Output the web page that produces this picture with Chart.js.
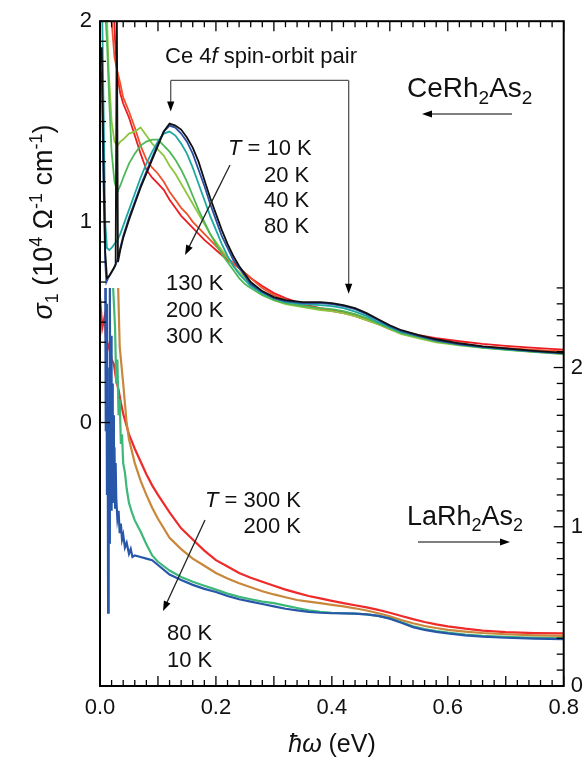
<!DOCTYPE html>
<html>
<head>
<meta charset="utf-8">
<script src="https://cdn.jsdelivr.net/npm/chart.js@4.4.1/dist/chart.umd.min.js"></script>
<style>
  html, body { margin: 0; padding: 0; background: #fff; }
</style>
</head>
<body>
<canvas id="chart" width="588" height="764"></canvas>
<script>
// ---- CeRh2As2 (left axis, 10^4 / ohm cm) ----
// shared energy grid above 0.04 eV
const ceGrid = [0.04,0.05,0.06,0.07,0.08,0.09,0.10,0.11,0.12,0.13,0.14,0.15,0.16,0.17,0.18,0.19,0.20,0.21,0.22,0.23,0.24,0.25,0.26,0.28,0.30,0.32,0.35,0.38,0.40,0.42,0.44,0.46,0.48,0.50,0.52,0.55,0.58,0.62,0.66,0.70,0.75,0.80];

const ce10Low = [0.003,0.006,0.009,0.012,0.016,0.020,0.024,0.027,0.029,0.031,0.035];
const ce10LowS = [1.87,1.30,0.85,0.72,0.73,0.75,0.77,0.79,2.10,0.80,0.86];
const ce10 = [0.92,1.01,1.09,1.17,1.24,1.31,1.38,1.45,1.49,1.48,1.46,1.42,1.37,1.30,1.21,1.12,1.04,0.96,0.89,0.83,0.78,0.74,0.70,0.655,0.625,0.61,0.60,0.60,0.595,0.585,0.57,0.545,0.515,0.485,0.46,0.435,0.415,0.395,0.38,0.37,0.357,0.347];

const ce20Low = [0.003,0.006,0.009,0.011,0.014,0.018,0.022,0.026,0.030,0.035];
const ce20LowS = [1.75,1.20,0.80,0.70,0.72,0.74,0.76,0.78,0.81,0.87];
const ce20 = [0.93,1.02,1.10,1.18,1.25,1.32,1.39,1.45,1.48,1.47,1.44,1.40,1.34,1.26,1.18,1.09,1.01,0.93,0.87,0.81,0.77,0.73,0.69,0.65,0.62,0.605,0.595,0.595,0.59,0.58,0.565,0.54,0.51,0.48,0.455,0.43,0.41,0.39,0.377,0.367,0.355,0.345];

const ce40Low = [0.003,0.006,0.009,0.012,0.016,0.020,0.025,0.030,0.035];
const ce40LowS = [2.20,1.60,1.00,0.87,0.86,0.87,0.89,0.91,0.94];
const ce40 = [0.98,1.06,1.14,1.22,1.29,1.35,1.40,1.44,1.45,1.43,1.39,1.34,1.27,1.19,1.11,1.03,0.96,0.89,0.83,0.78,0.74,0.71,0.68,0.645,0.62,0.60,0.59,0.585,0.58,0.57,0.553,0.53,0.50,0.475,0.45,0.43,0.41,0.39,0.375,0.365,0.353,0.343];

const ce80Low = [0.004,0.008,0.012,0.016,0.020,0.025,0.030,0.035];
const ce80LowS = [2.30,2.10,1.90,1.60,1.35,1.20,1.15,1.18];
const ce80 = [1.22,1.29,1.34,1.38,1.40,1.41,1.41,1.38,1.35,1.31,1.26,1.20,1.13,1.06,1.00,0.94,0.89,0.84,0.80,0.76,0.72,0.69,0.67,0.635,0.61,0.595,0.58,0.57,0.565,0.555,0.54,0.52,0.495,0.47,0.445,0.425,0.405,0.387,0.373,0.363,0.352,0.342];

const ce130Low = [0.005,0.010,0.015,0.020,0.025,0.030,0.035];
const ce130LowS = [2.40,2.20,1.75,1.50,1.40,1.38,1.40];
const ce130 = [1.41,1.44,1.45,1.47,1.43,1.39,1.36,1.33,1.28,1.24,1.19,1.14,1.09,1.04,0.99,0.94,0.90,0.86,0.82,0.78,0.75,0.72,0.69,0.64,0.61,0.59,0.575,0.56,0.555,0.545,0.53,0.51,0.49,0.465,0.44,0.42,0.40,0.385,0.372,0.362,0.351,0.341];

const ce200Low = [0.006,0.014,0.020,0.025,0.030,0.035];
const ce200LowS = [2.50,2.40,2.00,1.82,1.75,1.69];
const ce200 = [1.62,1.55,1.47,1.38,1.31,1.27,1.24,1.20,1.15,1.11,1.07,1.04,1.00,0.97,0.94,0.91,0.88,0.85,0.82,0.795,0.77,0.745,0.72,0.67,0.635,0.61,0.585,0.565,0.555,0.545,0.53,0.51,0.49,0.465,0.445,0.425,0.408,0.393,0.38,0.372,0.362,0.354];

const ce300Low = [0.010,0.020,0.026,0.030,0.035];
const ce300LowS = [2.50,2.30,1.90,1.73,1.64];
const ce300 = [1.59,1.52,1.43,1.34,1.26,1.22,1.19,1.16,1.11,1.07,1.03,1.00,0.97,0.94,0.91,0.885,0.86,0.835,0.81,0.79,0.77,0.745,0.72,0.68,0.645,0.62,0.59,0.57,0.56,0.55,0.535,0.515,0.495,0.475,0.455,0.435,0.42,0.405,0.392,0.382,0.372,0.363];

// ---- LaRh2As2 (right axis) ----
const laGrid = [0.06,0.07,0.08,0.09,0.10,0.12,0.14,0.16,0.18,0.20,0.22,0.24,0.26,0.28,0.30,0.32,0.34,0.36,0.38,0.40,0.42,0.44,0.46,0.48,0.50,0.52,0.54,0.56,0.58,0.60,0.63,0.66,0.70,0.75,0.80];

const la300Low = [0.000,0.004,0.008,0.012,0.016,0.020,0.024,0.028,0.032,0.036,0.040,0.050];
const la300LowS = [2.44,2.25,2.32,2.10,2.15,2.05,2.02,1.92,1.86,1.78,1.71,1.58];
const la300 = [1.49,1.41,1.33,1.26,1.20,1.09,0.99,0.92,0.85,0.79,0.75,0.71,0.68,0.655,0.63,0.605,0.585,0.565,0.55,0.535,0.52,0.507,0.494,0.478,0.46,0.44,0.42,0.402,0.387,0.375,0.36,0.348,0.338,0.332,0.33];

const la200Low = [0.022,0.031,0.034,0.040,0.046,0.050];
const la200LowS = [2.60,2.55,2.13,1.90,1.65,1.55];
const la200 = [1.40,1.29,1.20,1.12,1.05,0.93,0.86,0.80,0.755,0.71,0.675,0.645,0.62,0.595,0.575,0.557,0.54,0.53,0.52,0.51,0.50,0.488,0.474,0.457,0.437,0.414,0.394,0.377,0.364,0.353,0.342,0.333,0.325,0.318,0.315];

const la80Low = [0.016,0.022,0.026,0.028,0.030,0.032,0.034,0.036,0.038,0.040,0.043,0.046,0.050,0.055];
const la80LowS = [2.60,2.55,2.25,1.90,2.05,1.70,1.80,1.52,1.58,1.40,1.34,1.24,1.15,1.09];
const la80 = [1.04,0.97,0.89,0.82,0.78,0.725,0.685,0.655,0.63,0.605,0.58,0.56,0.545,0.53,0.52,0.505,0.49,0.475,0.465,0.46,0.457,0.455,0.45,0.44,0.425,0.40,0.375,0.358,0.345,0.335,0.323,0.315,0.308,0.302,0.30];

const la10Low = [0.009,0.010,0.011,0.012,0.013,0.014,0.015,0.016,0.017,0.018,0.019,0.020,0.021,0.022,0.023,0.024,0.025,0.026,0.027,0.028,0.030,0.032,0.034,0.036,0.038,0.040,0.043,0.046,0.050,0.053,0.056];
const la10LowS = [2.60,1.60,2.40,1.20,2.00,0.46,1.60,0.90,2.50,1.30,2.20,1.10,1.90,1.15,1.70,1.20,1.50,1.12,1.40,1.18,1.05,1.10,0.96,1.02,0.92,0.95,0.87,0.90,0.83,0.86,0.81];
const la10 = [0.82,0.81,0.80,0.79,0.76,0.70,0.665,0.635,0.61,0.59,0.565,0.545,0.53,0.515,0.50,0.485,0.475,0.465,0.46,0.457,0.456,0.455,0.45,0.44,0.423,0.397,0.37,0.352,0.34,0.33,0.318,0.31,0.303,0.297,0.295];

// axis ticks
const xTickLabels = [0, 0.2, 0.4, 0.6, 0.8];
const leftTickLabels = [0, 1, 2];
const rightTickLabels = [0, 1, 2];
const laCeiling = 2.5;   // upper edge of lower panel (right axis)

const FONT = '"Liberation Sans", Arial, Helvetica, sans-serif';

function pts(lowE, lowS, grid, vals) {
    return lowE.map((e, i) => ({ x: e, y: lowS[i] }))
        .concat(grid.map((e, i) => ({ x: e, y: vals[i] })));
}

function series(label, data, color, axis, width) {
    return {
        label: label,
        data: data,
        borderColor: color,
        borderWidth: width,
        pointRadius: 0,
        fill: false,
        tension: 0,
        yAxisID: axis
    };
}

// first dataset is painted last (on top)
const datasets = [
    series('Ce 10 K', pts(ce10Low, ce10LowS, ceGrid, ce10), '#111111', 'yLeft', 1.8),
    series('Ce 20 K', pts(ce20Low, ce20LowS, ceGrid, ce20), '#2b4fa2', 'yLeft', 1.8),
    series('Ce 40 K', pts(ce40Low, ce40LowS, ceGrid, ce40), '#1fa8a0', 'yLeft', 1.8),
    series('Ce 80 K', pts(ce80Low, ce80LowS, ceGrid, ce80), '#4cb856', 'yLeft', 1.8),
    series('Ce 130 K', pts(ce130Low, ce130LowS, ceGrid, ce130), '#8dc63f', 'yLeft', 1.8),
    series('Ce 200 K', pts(ce200Low, ce200LowS, ceGrid, ce200), '#f0502c', 'yLeft', 1.8),
    series('Ce 300 K', pts(ce300Low, ce300LowS, ceGrid, ce300), '#ec1c24', 'yLeft', 1.8),
    series('La 10 K', pts(la10Low, la10LowS, laGrid, la10), '#2856a8', 'yRight', 2.2),
    series('La 80 K', pts(la80Low, la80LowS, laGrid, la80), '#3db878', 'yRight', 2.2),
    series('La 200 K', pts(la200Low, la200LowS, laGrid, la200), '#c8873a', 'yRight', 2.2),
    series('La 300 K', pts(la300Low, la300LowS, laGrid, la300), '#ee2a2a', 'yRight', 2.2)
];

// lower-panel curves are cut at the top of their axis range
const panelClip = {
    id: 'panelClip',
    beforeDatasetDraw(chart, args) {
        const { ctx, chartArea: a, scales } = chart;
        const ds = chart.data.datasets[args.index];
        ctx.save();
        if (ds.yAxisID === 'yRight') {
            const yt = scales.yRight.getPixelForValue(laCeiling);
            ctx.beginPath();
            ctx.rect(a.left, yt, a.right - a.left, a.bottom - yt);
            ctx.clip();
        }
    },
    afterDatasetDraw(chart) {
        chart.ctx.restore();
    }
};

function seg(ctx, x1, y1, x2, y2) {
    ctx.beginPath();
    ctx.moveTo(x1, y1);
    ctx.lineTo(x2, y2);
    ctx.stroke();
}

function arrow(ctx, x1, y1, x2, y2, color) {
    const ang = Math.atan2(y2 - y1, x2 - x1);
    const len = 10, half = 3.6;
    ctx.save();
    ctx.strokeStyle = color || '#444';
    ctx.lineWidth = 1.3;
    seg(ctx, x1, y1, x2 - Math.cos(ang) * len * 0.8, y2 - Math.sin(ang) * len * 0.8);
    ctx.fillStyle = '#000';
    ctx.beginPath();
    ctx.moveTo(x2, y2);
    ctx.lineTo(x2 - Math.cos(ang) * len - Math.sin(ang) * half, y2 - Math.sin(ang) * len + Math.cos(ang) * half);
    ctx.lineTo(x2 - Math.cos(ang) * len + Math.sin(ang) * half, y2 - Math.sin(ang) * len - Math.cos(ang) * half);
    ctx.closePath();
    ctx.fill();
    ctx.restore();
}

// parts: [text, style]; style '' | 'i' | 'sub' | 'sup'
function richText(ctx, parts, x, y, size, align) {
    const fontFor = st => {
        const s = (st === 'sub' || st === 'sup') ? Math.round(size * 0.68) : size;
        return (st === 'i' ? 'italic ' : '') + s + 'px ' + FONT;
    };
    let w = 0;
    parts.forEach(p => { ctx.font = fontFor(p[1]); w += ctx.measureText(p[0]).width; });
    let cx = align === 'center' ? x - w / 2 : align === 'right' ? x - w : x;
    parts.forEach(p => {
        ctx.font = fontFor(p[1]);
        const dy = p[1] === 'sub' ? size * 0.24 : p[1] === 'sup' ? -size * 0.38 : 0;
        ctx.fillText(p[0], cx, y + dy);
        cx += ctx.measureText(p[0]).width;
    });
}

// frame, inward ticks, axis titles and annotations
const decorations = {
    id: 'decorations',
    afterDraw(chart) {
        const { ctx, chartArea: a, scales } = chart;
        const x = scales.x, yl = scales.yLeft, yr = scales.yRight;
        ctx.save();
        ctx.strokeStyle = '#000';
        ctx.lineWidth = 1.3;
        for (let i = 0; i <= 40; i++) {
            const px = x.getPixelForValue(i * 0.02);
            const len = i % 5 === 0 ? 10 : 6;
            seg(ctx, px, a.bottom, px, a.bottom - len);
            seg(ctx, px, a.top, px, a.top + len);
        }
        for (let i = 0; i <= 20; i++) {
            const py = yl.getPixelForValue(i / 10);
            seg(ctx, a.left, py, a.left + (i % 10 === 0 ? 10 : 6), py);
        }
        for (let i = 0; i <= 25; i++) {
            const py = yr.getPixelForValue(i / 10);
            seg(ctx, a.right, py, a.right - (i % 10 === 0 ? 10 : 7), py);
        }
        ctx.lineWidth = 2;
        ctx.strokeRect(a.left, a.top, a.right - a.left, a.bottom - a.top);

        ctx.fillStyle = '#111';
        ctx.textBaseline = 'alphabetic';

        // axis titles
        ctx.save();
        ctx.translate(52, 222);
        ctx.rotate(-Math.PI / 2);
        richText(ctx, [['σ', 'i'], ['1', 'sub'], [' (10', ''], ['4', 'sup'], [' Ω', ''], ['-1', 'sup'], [' cm', ''], ['-1', 'sup'], [')', '']], 0, 0, 27, 'center');
        ctx.restore();
        richText(ctx, [['ħω', 'i'], [' (eV)', '']], 332, 752, 25, 'center');

        // upper panel
        richText(ctx, [['Ce 4', ''], ['f', 'i'], [' spin-orbit pair', '']], 165, 63, 22, 'left');
        const xa = x.getPixelForValue(0.122), xb = x.getPixelForValue(0.429);
        const yTop = yl.getPixelForValue(1.705);
        ctx.strokeStyle = '#555';
        ctx.lineWidth = 1.3;
        seg(ctx, xa, yTop, xb, yTop);
        arrow(ctx, xa, yTop, xa, yl.getPixelForValue(1.55), '#555');
        arrow(ctx, xb, yTop, xb, yl.getPixelForValue(0.642), '#555');

        richText(ctx, [['CeRh', ''], ['2', 'sub'], ['As', ''], ['2', 'sub']], 407, 97, 28, 'left');
        arrow(ctx, 512, 114, 422, 114, '#555');

        richText(ctx, [['T', 'i'], [' = 10 K', '']], 228, 155, 22, 'left');
        richText(ctx, [['20 K', '']], 264, 182, 22, 'left');
        richText(ctx, [['40 K', '']], 264, 207, 22, 'left');
        richText(ctx, [['80 K', '']], 264, 233, 22, 'left');
        arrow(ctx, 230, 165, 185, 255, '#222');
        richText(ctx, [['130 K', '']], 166, 290, 22, 'left');
        richText(ctx, [['200 K', '']], 166, 317, 22, 'left');
        richText(ctx, [['300 K', '']], 166, 343, 22, 'left');

        // lower panel
        richText(ctx, [['T', 'i'], [' = 300 K', '']], 301, 507, 22, 'right');
        richText(ctx, [['200 K', '']], 301, 533, 22, 'right');
        arrow(ctx, 205, 520, 163, 611, '#222');
        richText(ctx, [['80 K', '']], 167, 640, 22, 'left');
        richText(ctx, [['10 K', '']], 167, 667, 22, 'left');
        richText(ctx, [['LaRh', ''], ['2', 'sub'], ['As', ''], ['2', 'sub']], 407, 525, 27, 'left');
        arrow(ctx, 418, 542, 510, 542, '#555');
        ctx.restore();
    }
};

const tickFont = { family: FONT, size: 22 };

new Chart(document.getElementById('chart'), {
    type: 'line',
    data: { datasets: datasets },
    options: {
        responsive: false,
        animation: false,
        layout: { padding: { top: 20, left: 0, right: 0, bottom: 0 } },
        plugins: { legend: { display: false }, tooltip: { enabled: false } },
        scales: {
            x: {
                type: 'linear',
                min: 0,
                max: 0.8,
                grid: { display: false, drawTicks: false },
                border: { display: false },
                afterBuildTicks: s => { s.ticks = xTickLabels.map(v => ({ value: v })); },
                afterFit: s => { s.height = 78; },
                ticks: { color: '#111', font: tickFont, padding: 9, maxRotation: 0, callback: v => Number(v).toFixed(1) }
            },
            yLeft: {
                type: 'linear',
                position: 'left',
                min: -1.313,
                max: 2,
                grid: { display: false, drawTicks: false },
                border: { display: false },
                afterBuildTicks: s => { s.ticks = leftTickLabels.map(v => ({ value: v })); },
                afterFit: s => { s.width = 100; },
                ticks: { color: '#111', font: tickFont, padding: 8, callback: v => String(v) }
            },
            yRight: {
                type: 'linear',
                position: 'right',
                min: 0,
                max: 4.175,
                grid: { display: false, drawTicks: false },
                border: { display: false },
                afterBuildTicks: s => { s.ticks = rightTickLabels.map(v => ({ value: v })); },
                afterFit: s => { s.width = 22; },
                ticks: { color: '#111', font: tickFont, padding: 7, callback: v => String(v) }
            }
        }
    },
    plugins: [panelClip, decorations]
});
</script>
</body>
</html>
